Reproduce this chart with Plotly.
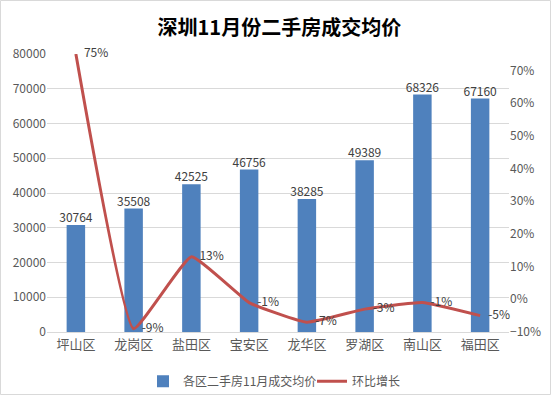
import plotly.graph_objects as go

districts = ["坪山区", "龙岗区", "盐田区", "宝安区", "龙华区", "罗湖区", "南山区", "福田区"]
avg_price = [30764, 35508, 42525, 46756, 38285, 49389, 68326, 67160]
mom_growth = [0.75, -0.09, 0.13, -0.01, -0.07, -0.03, -0.01, -0.05]
growth_labels = ["75%", "-9%", "13%", "-1%", "-7%", "-3%", "-1%", "-5%"]
left_ticks = [0, 10000, 20000, 30000, 40000, 50000, 60000, 70000, 80000]
right_ticks = [-0.1, 0, 0.1, 0.2, 0.3, 0.4, 0.5, 0.6, 0.7]

FONT = "Noto Sans CJK SC, Microsoft YaHei, sans-serif"

fig = go.Figure()
fig.add_trace(go.Bar(
    x=districts, y=avg_price, name="各区二手房11月成交均价",
    marker=dict(color="#4F81BD", line=dict(width=0)),
    width=0.32,
))
# value labels above bars
fig.add_trace(go.Scatter(
    x=districts, y=avg_price, mode="text", showlegend=False,
    text=[str(v) for v in avg_price], textposition="top center",
    textfont=dict(size=12, color="#404040", family=FONT),
    cliponaxis=False, hoverinfo="skip",
))
fig.add_trace(go.Scatter(
    x=districts, y=mom_growth, name="环比增长", yaxis="y2",
    mode="lines+text",
    line=dict(color="#C0504D", width=3, shape="spline", smoothing=0.35),
    text=["   " + t for t in growth_labels], textposition="middle right",
    textfont=dict(size=12, color="#404040", family=FONT),
    cliponaxis=False,
))

fig.update_layout(
    width=551, height=395,
    margin=dict(l=47, r=42, t=54, b=63, autoexpand=False),
    paper_bgcolor="white", plot_bgcolor="white",
    font=dict(family=FONT, size=12, color="#595959"),
    title=dict(text="<b>深圳11月份二手房成交均价</b>", x=0.507, xanchor="center",
               y=0.93, yanchor="middle",
               font=dict(size=20, color="#000000", family=FONT)),
    xaxis=dict(showgrid=False, showline=True, linecolor="#D9D9D9", linewidth=1,
               ticks="", tickfont=dict(size=13, color="#595959")),
    yaxis=dict(range=[0, 80000], tickvals=left_ticks, tickformat="d", showgrid=True,
               gridcolor="#D9D9D9", gridwidth=1, zeroline=False, ticks="",
               tickfont=dict(size=12, color="#595959")),
    yaxis2=dict(overlaying="y", side="right", range=[-0.1, 0.75],
                tickvals=right_ticks, tickformat=".0%", showgrid=False,
                zeroline=False, ticks="", tickfont=dict(size=12, color="#595959")),
    legend=dict(orientation="h", x=(143 - 47) / 462, xanchor="left", y=-0.125, yanchor="top",
                entrywidth=124, itemwidth=30,
                font=dict(size=12, color="#595959"), bgcolor="rgba(0,0,0,0)"),
    showlegend=True,
    shapes=[dict(type="rect", xref="paper", yref="paper",
                 x0=-46.5/462, x1=1 + 41.5/462, y0=-62.5/278, y1=1 + 53.5/278,
                 line=dict(color="#D9D9D9", width=1), fillcolor="rgba(0,0,0,0)",
                 layer="below")],
)

fig.write_html("out.html", config={"displayModeBar": False},
               post_script="document.body.style.margin='0';")
